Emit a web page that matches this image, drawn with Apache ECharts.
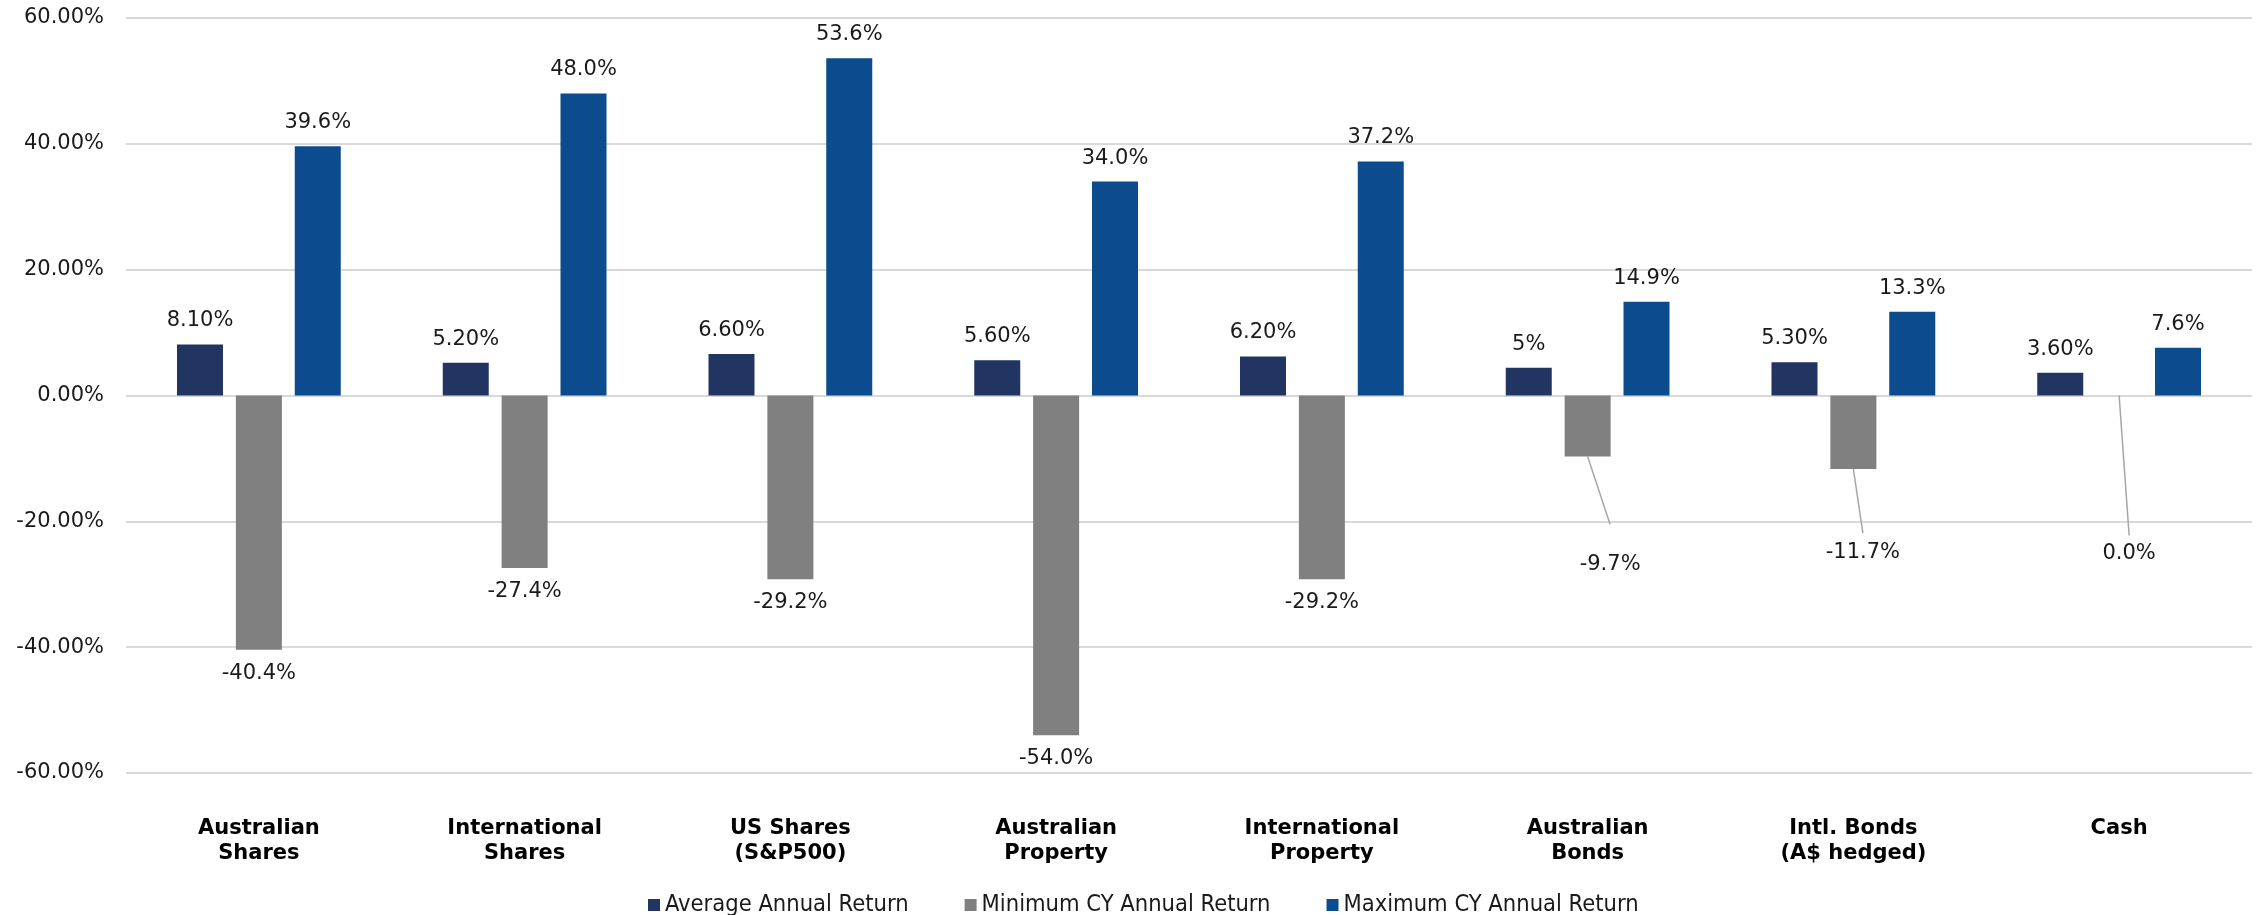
<!DOCTYPE html>
<html>
<head>
<meta charset="utf-8">
<script src="https://cdn.jsdelivr.net/npm/echarts@6/dist/echarts.min.js"></script>
<style>
  html, body { margin: 0; padding: 0; background: #ffffff; }
  #chart { width: 2256px; height: 915px; }
</style>
</head>
<body>
<div id="chart"></div>
<script>
// ---- data ----
const categories = [
  'Australian\nShares', 'International\nShares', 'US Shares\n(S&P500)', 'Australian\nProperty',
  'International\nProperty', 'Australian\nBonds', 'Intl. Bonds\n(A$ hedged)', 'Cash'
];
const seriesNames = ['Average Annual Return', 'Minimum CY Annual Return', 'Maximum CY Annual Return'];
const avgValues = [8.1, 5.2, 6.6, 5.6, 6.2, 4.4, 5.3, 3.6];
const avgLabels = ['8.10%', '5.20%', '6.60%', '5.60%', '6.20%', '5%', '5.30%', '3.60%'];
const minValues = [-40.4, -27.4, -29.2, -54.0, -29.2, -9.7, -11.7, 0.0];
const maxValues = [39.6, 48.0, 53.6, 34.0, 37.2, 14.9, 13.3, 7.6];
const yTicks = [-60, -40, -20, 0, 20, 40, 60];

// ---- styling / layout (not data) ----
const FONT = 'DejaVu Sans, Verdana, sans-serif';
const colors = ['#223461', '#808080', '#0B4B8E'];
// leader-lined labels: [dx, dy] of label centre from bar-bottom centre (px), gap between line end and label centre (px)
const minLabelShift = { 5: [22.5, 108, 40], 6: [9.5, 83, 19], 7: [10, 158, 18] };

const chart = echarts.init(document.getElementById('chart'), null, { renderer: 'canvas' });

const labelBase = { show: true, color: '#1a1a1a', fontFamily: FONT, fontSize: 21 };

// leader lines attach to the minimum bars (the middle bar of each group, i.e. the category centre)
const leaderData = Object.keys(minLabelShift).map(k => [Number(k), minValues[Number(k)]]);

const option = {
  animation: false,
  backgroundColor: '#ffffff',
  grid: { left: 126, right: 4, top: 18, bottom: 142, containLabel: false },
  legend: {
    data: seriesNames,
    left: 643,
    top: 888,
    itemWidth: 12,
    itemHeight: 12,
    itemGap: 56,
    icon: 'rect',
    textStyle: { fontFamily: 'DejaVu Sans Condensed, DejaVu Sans, sans-serif', fontSize: 23.5, color: '#1a1a1a' }
  },
  xAxis: {
    type: 'category',
    data: categories,
    axisLine: { show: false },
    axisTick: { show: false },
    axisLabel: {
      margin: 43,
      fontFamily: FONT,
      fontSize: 21,
      fontWeight: 'bold',
      color: '#000000',
      lineHeight: 25,
      interval: 0
    }
  },
  yAxis: {
    type: 'value',
    min: yTicks[0],
    max: yTicks[yTicks.length - 1],
    interval: 20,
    axisLine: { show: false },
    axisTick: { show: false },
    splitLine: { lineStyle: { color: '#D9D9D9', width: 2 } },
    axisLabel: {
      margin: 22,
      fontFamily: FONT,
      fontSize: 21,
      color: '#1a1a1a',
      formatter: v => v.toFixed(2) + '%'
    }
  },
  series: [
    {
      name: seriesNames[0],
      type: 'bar',
      data: avgValues,
      barWidth: 46,
      barGap: '28%',
      itemStyle: { color: colors[0] },
      label: Object.assign({}, labelBase, {
        position: 'top', distance: 13,
        formatter: p => avgLabels[p.dataIndex]
      })
    },
    {
      name: seriesNames[1],
      type: 'bar',
      data: minValues,
      barWidth: 46,
      barGap: '28%',
      itemStyle: { color: colors[1] },
      label: Object.assign({}, labelBase, {
        position: 'bottom', distance: 13,
        formatter: p => p.value.toFixed(1) + '%'
      }),
      labelLayout: function (p) {
        const s = minLabelShift[p.dataIndex];
        if (!s) return {};
        const r = p.rect;
        const cx = r.x + r.width / 2;
        const bottom = Math.max(r.y, r.y + r.height);
        return { x: cx + s[0], y: bottom + s[1], align: 'center', verticalAlign: 'middle' };
      }
    },
    {
      name: seriesNames[2],
      type: 'bar',
      data: maxValues,
      barWidth: 46,
      barGap: '28%',
      itemStyle: { color: colors[2] },
      label: Object.assign({}, labelBase, {
        position: 'top', distance: 13,
        formatter: p => p.value.toFixed(1) + '%'
      })
    },
    {
      name: 'leader',
      type: 'custom',
      silent: true,
      z: 3,
      data: leaderData,
      renderItem: function (params, api) {
        const idx = api.value(0);
        const start = api.coord([idx, api.value(1)]);
        const s = minLabelShift[idx];
        return {
          type: 'line',
          shape: { x1: start[0], y1: start[1], x2: start[0] + s[0], y2: start[1] + s[1] - s[2] },
          style: { stroke: '#A6A6A6', lineWidth: 1.5 }
        };
      }
    }
  ]
};

chart.setOption(option);
</script>
</body>
</html>
